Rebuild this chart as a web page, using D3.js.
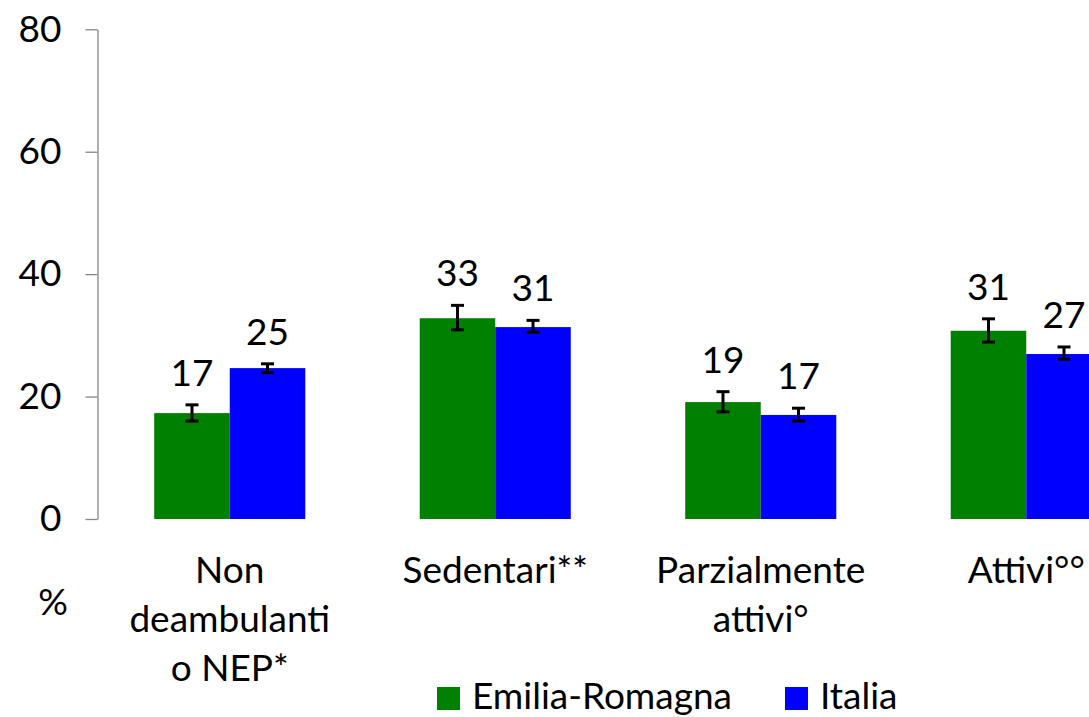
<!DOCTYPE html>
<html>
<head>
<meta charset="utf-8">
<script src="https://cdn.jsdelivr.net/npm/d3@7"></script>
<style>
  html, body { margin: 0; padding: 0; background: #fff; }
  svg { display: block; font-family: Lato, "Open Sans", sans-serif; }
</style>
</head>
<body>
<svg id="chart" width="1089" height="717"></svg>
<script>
// ---- data ----
const categories = ["Non deambulanti o NEP*", "Sedentari**", "Parzialmente attivi°", "Attivi°°"];
const categoryLines = [["Non", "deambulanti", "o NEP*"], ["Sedentari**"], ["Parzialmente", "attivi°"], ["Attivi°°"]];
const seriesNames = ["Emilia-Romagna", "Italia"];
const emiliaValues = [17.3, 32.8, 19.1, 30.75];
const emiliaLow    = [16.0, 30.9, 17.5, 28.9];
const emiliaHigh   = [18.65, 34.9, 20.8, 32.7];
const italiaValues = [24.65, 31.35, 17.0, 26.95];
const italiaLow    = [23.9, 30.5, 16.0, 26.1];
const italiaHigh   = [25.35, 32.45, 18.1, 28.1];
const yTicks = [0, 20, 40, 60, 80];
const yLabel = "%";

// ---- layout ----
const colors = ["#008000", "#0000ff"];
const svg = d3.select("#chart");
const fontSize = 37;

const series = [
  { name: seriesNames[0], values: emiliaValues, low: emiliaLow, high: emiliaHigh, color: colors[0] },
  { name: seriesNames[1], values: italiaValues, low: italiaLow, high: italiaHigh, color: colors[1] }
];

const x0 = d3.scaleBand().domain(categories).range([97, 1159]).paddingInner(0.431).paddingOuter(0.2155);
const x1 = d3.scaleBand().domain(seriesNames).range([0, x0.bandwidth()]).padding(0);
const y = d3.scaleLinear().domain([0, 80]).range([519, 29.3]);

// axis
const axis = d3.axisLeft(y).tickValues(yTicks).tickSizeInner(12).tickSizeOuter(0).tickPadding(24);
const gAxis = svg.append("g").attr("transform", "translate(97.5,0)").call(axis);
gAxis.select(".domain").attr("stroke", "#868686").attr("stroke-width", 1.3);
gAxis.selectAll(".tick line").attr("stroke", "#868686").attr("stroke-width", 1.3);
gAxis.selectAll(".tick text").attr("fill", "#000").style("font-size", fontSize + "px").style("font-family", "Lato, sans-serif");

// bars
const groups = svg.append("g").selectAll("g")
  .data(categories).join("g")
  .attr("transform", d => `translate(${x0(d)},0)`);

series.forEach(s => {
  groups.append("rect")
    .attr("x", d => x1(s.name))
    .attr("width", x1.bandwidth())
    .attr("y", (d, i) => y(s.values[i]))
    .attr("height", (d, i) => y(0) - y(s.values[i]))
    .attr("fill", s.color);
});

// error bars
series.forEach(s => {
  const cx = x1(s.name) + x1.bandwidth() / 2;
  const eb = groups.append("g").attr("stroke", "#000").attr("stroke-width", 3);
  eb.append("line").attr("x1", cx).attr("x2", cx)
    .attr("y1", (d, i) => y(s.low[i])).attr("y2", (d, i) => y(s.high[i]));
  eb.append("line").attr("x1", cx - 6.5).attr("x2", cx + 6.5)
    .attr("y1", (d, i) => y(s.low[i])).attr("y2", (d, i) => y(s.low[i]));
  eb.append("line").attr("x1", cx - 6.5).attr("x2", cx + 6.5)
    .attr("y1", (d, i) => y(s.high[i])).attr("y2", (d, i) => y(s.high[i]));
});

// value labels
const fmt = d3.format(".0f");
series.forEach(s => {
  groups.append("text")
    .attr("x", x1(s.name) + x1.bandwidth() / 2)
    .attr("y", (d, i) => y(s.high[i]) - 19)
    .attr("text-anchor", "middle")
    .style("font-size", fontSize + "px")
    .attr("fill", "#000")
    .text((d, i) => fmt(s.values[i]));
});

// category labels
groups.each(function(d, i) {
  const t = d3.select(this).append("text")
    .attr("x", x0.bandwidth() / 2)
    .attr("y", 583)
    .attr("text-anchor", "middle")
    .style("font-size", fontSize + "px")
    .attr("fill", "#000");
  categoryLines[i].forEach((line, j) => {
    t.append("tspan").attr("x", x0.bandwidth() / 2).attr("y", 583 + j * 49).text(line);
  });
});

// y label
svg.append("text").attr("x", 53).attr("y", 615).attr("text-anchor", "middle")
  .style("font-size", fontSize + "px").text(yLabel);

// legend
const legendX = [437, 785];
series.forEach((s, i) => {
  svg.append("rect").attr("x", legendX[i]).attr("y", 687).attr("width", 23).attr("height", 23).attr("fill", s.color);
  svg.append("text").attr("x", legendX[i] + 35).attr("y", 709)
    .style("font-size", fontSize + "px").text(s.name);
});
</script>
</body>
</html>
